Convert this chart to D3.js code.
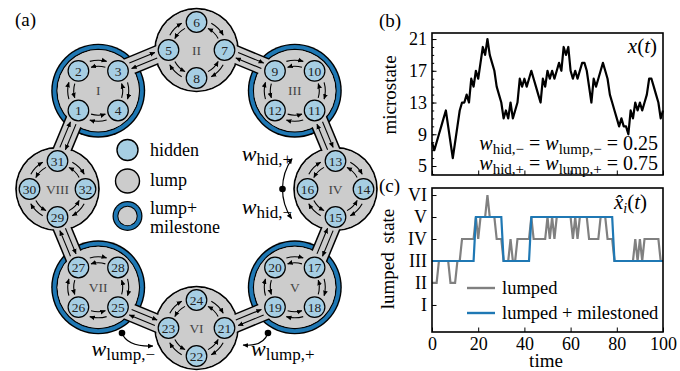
<!DOCTYPE html>
<html>
<head>
<meta charset="utf-8">
<script src="https://cdn.jsdelivr.net/npm/d3@7"></script>
<style>
  body { margin: 0; background: #fff; }
</style>
</head>
<body>
<svg id="fig" width="680" height="371"></svg>
<script>
// ---- data ----
const lumps = ["I", "II", "III", "IV", "V", "VI", "VII", "VIII"];
const milestones = ["I", "III", "V", "VII"];
const legendItems = ["hidden", "lump", "lump+", "milestone"];

const times = d3.range(0, 101);
const microstate = [
  8, 7, 8, 9, 10, 11, 12, 10, 8, 6,
  8, 10, 12, 13, 13, 14, 13, 16, 15, 17,
  16, 18, 20, 19, 21, 19, 18, 17, 15, 14,
  13, 11, 12, 11, 13, 11, 12, 13, 16, 15,
  16, 15, 16, 17, 16, 15, 14, 13, 16, 15,
  17, 16, 17, 16, 17, 18, 17, 20, 19, 20,
  17, 16, 17, 16, 17, 18, 18, 17, 15, 13,
  16, 15, 16, 17, 18, 17, 16, 14, 13, 12,
  11, 10, 11, 10, 10, 9, 12, 11, 13, 12,
  13, 12, 13, 14, 16, 16, 15, 14, 13, 11,
  12];
const lumped = [
  2, 2, 2, 3, 3, 3, 3, 3, 2, 2,
  2, 3, 3, 4, 4, 4, 4, 4, 4, 5,
  4, 5, 5, 5, 6, 5, 5, 5, 4, 4,
  4, 3, 3, 3, 4, 3, 3, 4, 4, 4,
  4, 4, 4, 5, 4, 4, 4, 4, 4, 4,
  5, 4, 5, 4, 5, 5, 5, 5, 5, 5,
  5, 4, 5, 4, 5, 5, 5, 5, 4, 4,
  4, 4, 4, 5, 5, 5, 4, 4, 4, 3,
  3, 3, 3, 3, 3, 3, 3, 3, 4, 3,
  4, 3, 4, 4, 4, 4, 4, 4, 4, 3,
  3];
const milestoned = [
  3, 3, 3, 3, 3, 3, 3, 3, 3, 3,
  3, 3, 3, 3, 3, 3, 3, 3, 3, 5,
  5, 5, 5, 5, 5, 5, 5, 5, 5, 5,
  5, 3, 3, 3, 3, 3, 3, 3, 3, 3,
  3, 3, 3, 5, 5, 5, 5, 5, 5, 5,
  5, 5, 5, 5, 5, 5, 5, 5, 5, 5,
  5, 5, 5, 5, 5, 5, 5, 5, 5, 5,
  5, 5, 5, 5, 5, 5, 5, 5, 5, 3,
  3, 3, 3, 3, 3, 3, 3, 3, 3, 3,
  3, 3, 3, 3, 3, 3, 3, 3, 3, 3,
  3];

const microTicks = [5, 9, 13, 17, 21];
const microMinor = d3.range(4, 22);
const lumpTicks = [1, 2, 3, 4, 5, 6];
const timeTicks = [0, 20, 40, 60, 80, 100];

const C = { hidden: "#a6cee3", lump: "#cccccc", blue: "#1f78b4", gray: "#808080" };
const FONT = "Liberation Serif";

const svg = d3.select("#fig");
const defs = svg.append("defs");
defs.append("marker")
  .attr("id", "ah")
  .attr("viewBox", "-6 -3 6 6")
  .attr("refX", -0.5).attr("refY", 0)
  .attr("markerWidth", 5.5).attr("markerHeight", 5.5)
  .attr("markerUnits", "userSpaceOnUse")
  .attr("orient", "auto-start-reverse")
  .append("path")
  .attr("d", "M0,0L-6,-2.6L-6,2.6Z")
  .attr("fill", "#000");

// ---- panel (a): ring of lumps ----
const ring = { cx: 196.5, cy: 189, r: 139 };
const nodeDist = 28;
const lumpAngle = d3.scaleLinear().domain([0, 8]).range([225, 585]);
const rad = d => d * Math.PI / 180;

const lumpData = lumps.map((name, k) => {
  const a = lumpAngle(k);
  return {
    name, k, a,
    x: ring.cx + ring.r * Math.cos(rad(a)),
    y: ring.cy + ring.r * Math.sin(rad(a)),
    milestone: milestones.includes(name)
  };
});
const nodePos = (L, j) => {
  const a = L.a - 90 + 90 * j;
  return [L.x + nodeDist * Math.cos(rad(a)), L.y + nodeDist * Math.sin(rad(a))];
};

const gA = svg.append("g");

// lump discs
lumpData.forEach(L => {
  const rings = L.milestone
    ? [[47, "#000"], [45.6, C.blue], [41.9, "#000"], [40.6, C.lump]]
    : [[42.3, "#000"], [40.6, C.lump]];
  rings.forEach(([r, f]) => {
    gA.append("circle").attr("cx", L.x).attr("cy", L.y).attr("r", r).attr("fill", f);
  });
});

// channels between neighbouring lumps
const bands = d3.range(8).map(k => [nodePos(lumpData[k], 2), nodePos(lumpData[(k + 1) % 8], 0)]);
gA.append("g").selectAll("line")
  .data(bands)
  .join("line")
  .attr("x1", d => d[0][0]).attr("y1", d => d[0][1])
  .attr("x2", d => d[1][0]).attr("y2", d => d[1][1])
  .attr("stroke", "#000").attr("stroke-width", 19);
gA.append("g").selectAll("line")
  .data(bands)
  .join("line")
  .attr("x1", d => d[0][0]).attr("y1", d => d[0][1])
  .attr("x2", d => d[1][0]).attr("y2", d => d[1][1])
  .attr("stroke", C.lump).attr("stroke-width", 16);
gA.append("g").selectAll("circle")
  .data(lumpData)
  .join("circle")
  .attr("cx", d => d.x).attr("cy", d => d.y).attr("r", 40.6)
  .attr("fill", C.lump);

// arrows inside the lumps (outer clockwise, inner counter-clockwise)
const arcPt = (L, r, a) => [L.x + r * Math.cos(rad(a)), L.y + r * Math.sin(rad(a))];
const arcs = [];
lumpData.forEach(L => {
  for (let j = 0; j < 4; j++) {
    const a0 = L.a - 90 + 90 * j;
    const p1 = arcPt(L, 30.5, a0 + 29), p2 = arcPt(L, 30.5, a0 + 61);
    arcs.push(`M${p1[0]},${p1[1]}A30.5,30.5 0 0 1 ${p2[0]},${p2[1]}`);
    const q1 = arcPt(L, 24.5, a0 + 62), q2 = arcPt(L, 24.5, a0 + 28);
    arcs.push(`M${q1[0]},${q1[1]}A24.5,24.5 0 0 0 ${q2[0]},${q2[1]}`);
  }
});
// arrows along the channels
bands.forEach(([P, Q]) => {
  const len = Math.hypot(Q[0] - P[0], Q[1] - P[1]);
  const u = [(Q[0] - P[0]) / len, (Q[1] - P[1]) / len];
  let n = [-u[1], u[0]];
  const mid = [(P[0] + Q[0]) / 2 - ring.cx, (P[1] + Q[1]) / 2 - ring.cy];
  if (mid[0] * n[0] + mid[1] * n[1] < 0) n = [-n[0], -n[1]];
  const g = 13.5, o = 3;
  arcs.push(`M${P[0] + u[0] * g + n[0] * o},${P[1] + u[1] * g + n[1] * o}L${Q[0] - u[0] * g + n[0] * o},${Q[1] - u[1] * g + n[1] * o}`);
  arcs.push(`M${Q[0] - u[0] * g - n[0] * o},${Q[1] - u[1] * g - n[1] * o}L${P[0] + u[0] * g - n[0] * o},${P[1] + u[1] * g - n[1] * o}`);
});
gA.append("g").selectAll("path")
  .data(arcs)
  .join("path")
  .attr("d", d => d)
  .attr("fill", "none").attr("stroke", "#000").attr("stroke-width", 1.1)
  .attr("marker-end", "url(#ah)");

// hidden states
const nodes = [];
lumpData.forEach(L => {
  for (let j = 0; j < 4; j++) nodes.push({ id: 4 * L.k + j + 1, p: nodePos(L, j) });
});
const gN = gA.append("g").selectAll("g")
  .data(nodes)
  .join("g")
  .attr("transform", d => `translate(${d.p[0]},${d.p[1]})`);
gN.append("circle").attr("r", 10.3).attr("fill", C.hidden).attr("stroke", "#000").attr("stroke-width", 1.2);
gN.append("text").attr("text-anchor", "middle").attr("dy", "0.35em")
  .attr("font-size", 13.5).attr("fill", "#222")
  .text(d => d.id);

gA.append("g").selectAll("text")
  .data(lumpData)
  .join("text")
  .attr("x", d => d.x).attr("y", d => d.y).attr("dy", "0.35em")
  .attr("text-anchor", "middle").attr("font-size", 13.5).attr("fill", "#444")
  .text(d => d.name);

// legend of panel (a)
const lg = gA.append("g");
lg.append("circle").attr("cx", 127.5).attr("cy", 150).attr("r", 10.5)
  .attr("fill", C.hidden).attr("stroke", "#000").attr("stroke-width", 1.4);
lg.append("circle").attr("cx", 127.5).attr("cy", 181).attr("r", 12)
  .attr("fill", C.lump).attr("stroke", "#000").attr("stroke-width", 1.4);
[[15, "#000"], [13.8, C.blue], [10.2, "#000"], [9.2, C.lump]].forEach(([r, f]) => {
  lg.append("circle").attr("cx", 127.5).attr("cy", 216).attr("r", r).attr("fill", f);
});
[156, 186, 214, 233].forEach((y, i) => {
  lg.append("text").attr("x", 150).attr("y", y).attr("font-size", 18).text(legendItems[i]);
});

// rate labels
const rateLabel = (g, x, y, sub, anchor) => {
  const t = g.append("text").attr("x", x).attr("y", y).attr("text-anchor", anchor);
  t.append("tspan").attr("font-style", "italic").attr("font-size", 22).text("w");
  t.append("tspan").attr("font-size", 17).attr("dy", 4).text(sub);
  return t;
};
rateLabel(gA, 292, 161, "hid,+", "end");
rateLabel(gA, 292, 214, "hid,\u2212", "end");
rateLabel(gA, 155, 356, "lump,\u2212", "end");
rateLabel(gA, 251, 356, "lump,+", "start");

// curved rate arrows
const iv = lumpData[3];
const arcA = arcPt(iv, 53, 215), arcB = arcPt(iv, 53, 146), dotIV = arcPt(iv, 53, 180);
gA.append("path")
  .attr("d", `M${arcA[0]},${arcA[1]}A53,53 0 0 0 ${arcB[0]},${arcB[1]}`)
  .attr("fill", "none").attr("stroke", "#000").attr("stroke-width", 1.2)
  .attr("marker-start", "url(#ah)").attr("marker-end", "url(#ah)");
gA.append("circle").attr("cx", dotIV[0]).attr("cy", dotIV[1]).attr("r", 3.3).attr("fill", "#000");
gA.append("path").attr("d", "M122,333Q127,347 153,346")
  .attr("fill", "none").attr("stroke", "#000").attr("stroke-width", 1.2).attr("marker-end", "url(#ah)");
gA.append("circle").attr("cx", 122).attr("cy", 333).attr("r", 3.3).attr("fill", "#000");
gA.append("path").attr("d", "M268,333Q263,347 243,345")
  .attr("fill", "none").attr("stroke", "#000").attr("stroke-width", 1.2).attr("marker-end", "url(#ah)");
gA.append("circle").attr("cx", 268).attr("cy", 333).attr("r", 3.3).attr("fill", "#000");

svg.append("text").attr("x", 15).attr("y", 26).attr("font-size", 19).text("(a)");
svg.append("text").attr("x", 379).attr("y", 27).attr("font-size", 19).text("(b)");
svg.append("text").attr("x", 379).attr("y", 192).attr("font-size", 19).text("(c)");

// ---- panels (b) and (c) ----
const plot = { left: 432, right: 663 };
const xs = d3.scaleLinear().domain([0, 100]).range([plot.left, plot.right]);
const yb = d3.scaleLinear().domain([3.87, 21.76]).range([175, 33]);
const yc = d3.scaleLinear().domain([-0.23, 6.32]).range([332, 188]);
const roman = d3.scaleOrdinal().domain(lumpTicks).range(lumps);

const styleAxis = g => {
  g.attr("font-size", 18);
  g.select(".domain").remove();
  g.selectAll("text").attr("fill", "#000");
  g.selectAll("line").attr("stroke-width", 1);
};

// (b)
svg.append("g").attr("transform", `translate(${plot.left},0)`)
  .call(d3.axisLeft(yb).tickValues(microMinor).tickSize(-2.2).tickFormat(""))
  .call(styleAxis);
svg.append("g").attr("transform", `translate(${plot.left},0)`)
  .call(d3.axisLeft(yb).tickValues(microTicks).tickSize(-4.5).tickPadding(5))
  .call(styleAxis);
svg.append("g").attr("transform", `translate(0,175)`)
  .call(d3.axisBottom(xs).tickValues(timeTicks).tickSize(-4.5).tickFormat(""))
  .call(styleAxis);
svg.append("path")
  .datum(microstate)
  .attr("d", d3.line().x((d, i) => xs(times[i])).y(d => yb(d)))
  .attr("fill", "none").attr("stroke", "#000").attr("stroke-width", 2.2)
  .attr("stroke-linejoin", "round");
svg.append("rect").attr("x", plot.left).attr("y", 33)
  .attr("width", plot.right - plot.left).attr("height", 142)
  .attr("fill", "none").attr("stroke", "#000").attr("stroke-width", 1.6);

svg.append("text").attr("transform", "translate(396,95) rotate(-90)")
  .attr("text-anchor", "middle").attr("font-size", 19).text("microstate");

const xt = svg.append("text").attr("x", 657).attr("y", 53).attr("text-anchor", "end").attr("font-size", 21);
xt.append("tspan").attr("font-style", "italic").text("x");
xt.append("tspan").text("(");
xt.append("tspan").attr("font-style", "italic").text("t");
xt.append("tspan").text(")");

const rateLine = (y, sign, val) => {
  const t = svg.append("text").attr("x", 658).attr("y", y).attr("text-anchor", "end").attr("font-size", 20);
  t.append("tspan").attr("font-style", "italic").text("w");
  t.append("tspan").attr("font-size", 15).attr("dy", 3.5).text("hid," + sign);
  t.append("tspan").attr("dy", -3.5).text(" = ");
  t.append("tspan").attr("font-style", "italic").text("w");
  t.append("tspan").attr("font-size", 15).attr("dy", 3.5).text("lump," + sign);
  t.append("tspan").attr("dy", -3.5).text(" = " + val);
};
rateLine(150, "\u2212", "0.25");
rateLine(170, "+", "0.75");

// (c)
svg.append("g").attr("transform", `translate(${plot.left},0)`)
  .call(d3.axisLeft(yc).tickValues(lumpTicks).tickSize(-4.5).tickPadding(5).tickFormat(d => roman(d)))
  .call(styleAxis);
svg.append("g").attr("transform", `translate(0,332)`)
  .call(d3.axisBottom(xs).tickValues(timeTicks).tickSize(-4.5).tickPadding(5))
  .call(styleAxis);

const lineC = d3.line().x((d, i) => xs(times[i])).y(d => yc(d));
svg.append("path").datum(lumped).attr("d", lineC)
  .attr("fill", "none").attr("stroke", C.gray).attr("stroke-width", 2.2);
svg.append("path").datum(milestoned).attr("d", lineC)
  .attr("fill", "none").attr("stroke", C.blue).attr("stroke-width", 2.2);
svg.append("rect").attr("x", plot.left).attr("y", 188)
  .attr("width", plot.right - plot.left).attr("height", 144)
  .attr("fill", "none").attr("stroke", "#000").attr("stroke-width", 1.6);

svg.append("text").attr("transform", "translate(394,259) rotate(-90)")
  .attr("text-anchor", "middle").attr("font-size", 19).attr("word-spacing", 4).text("lumped state");
svg.append("text").attr("x", 546).attr("y", 367).attr("text-anchor", "middle").attr("font-size", 19).text("time");

const ht = svg.append("text").attr("x", 614).attr("y", 209).attr("font-size", 21);
ht.append("tspan").attr("font-style", "italic").text("x\u0302");
ht.append("tspan").attr("font-style", "italic").attr("font-size", 14).attr("dy", 4).text("i");
ht.append("tspan").attr("dy", -4).text("(");
ht.append("tspan").attr("font-style", "italic").text("t");
ht.append("tspan").text(")");

const legC = [["lumped", C.gray, 288], ["lumped + milestoned", C.blue, 313]];
legC.forEach(([label, col, y]) => {
  svg.append("line").attr("x1", 467).attr("x2", 495).attr("y1", y).attr("y2", y)
    .attr("stroke", col).attr("stroke-width", 2.4);
  svg.append("text").attr("x", 502).attr("y", y + 5.5).attr("font-size", 18.5).text(label);
});

// set the serif face on every text element directly
svg.selectAll("text").attr("font-family", FONT);
</script>
</body>
</html>
